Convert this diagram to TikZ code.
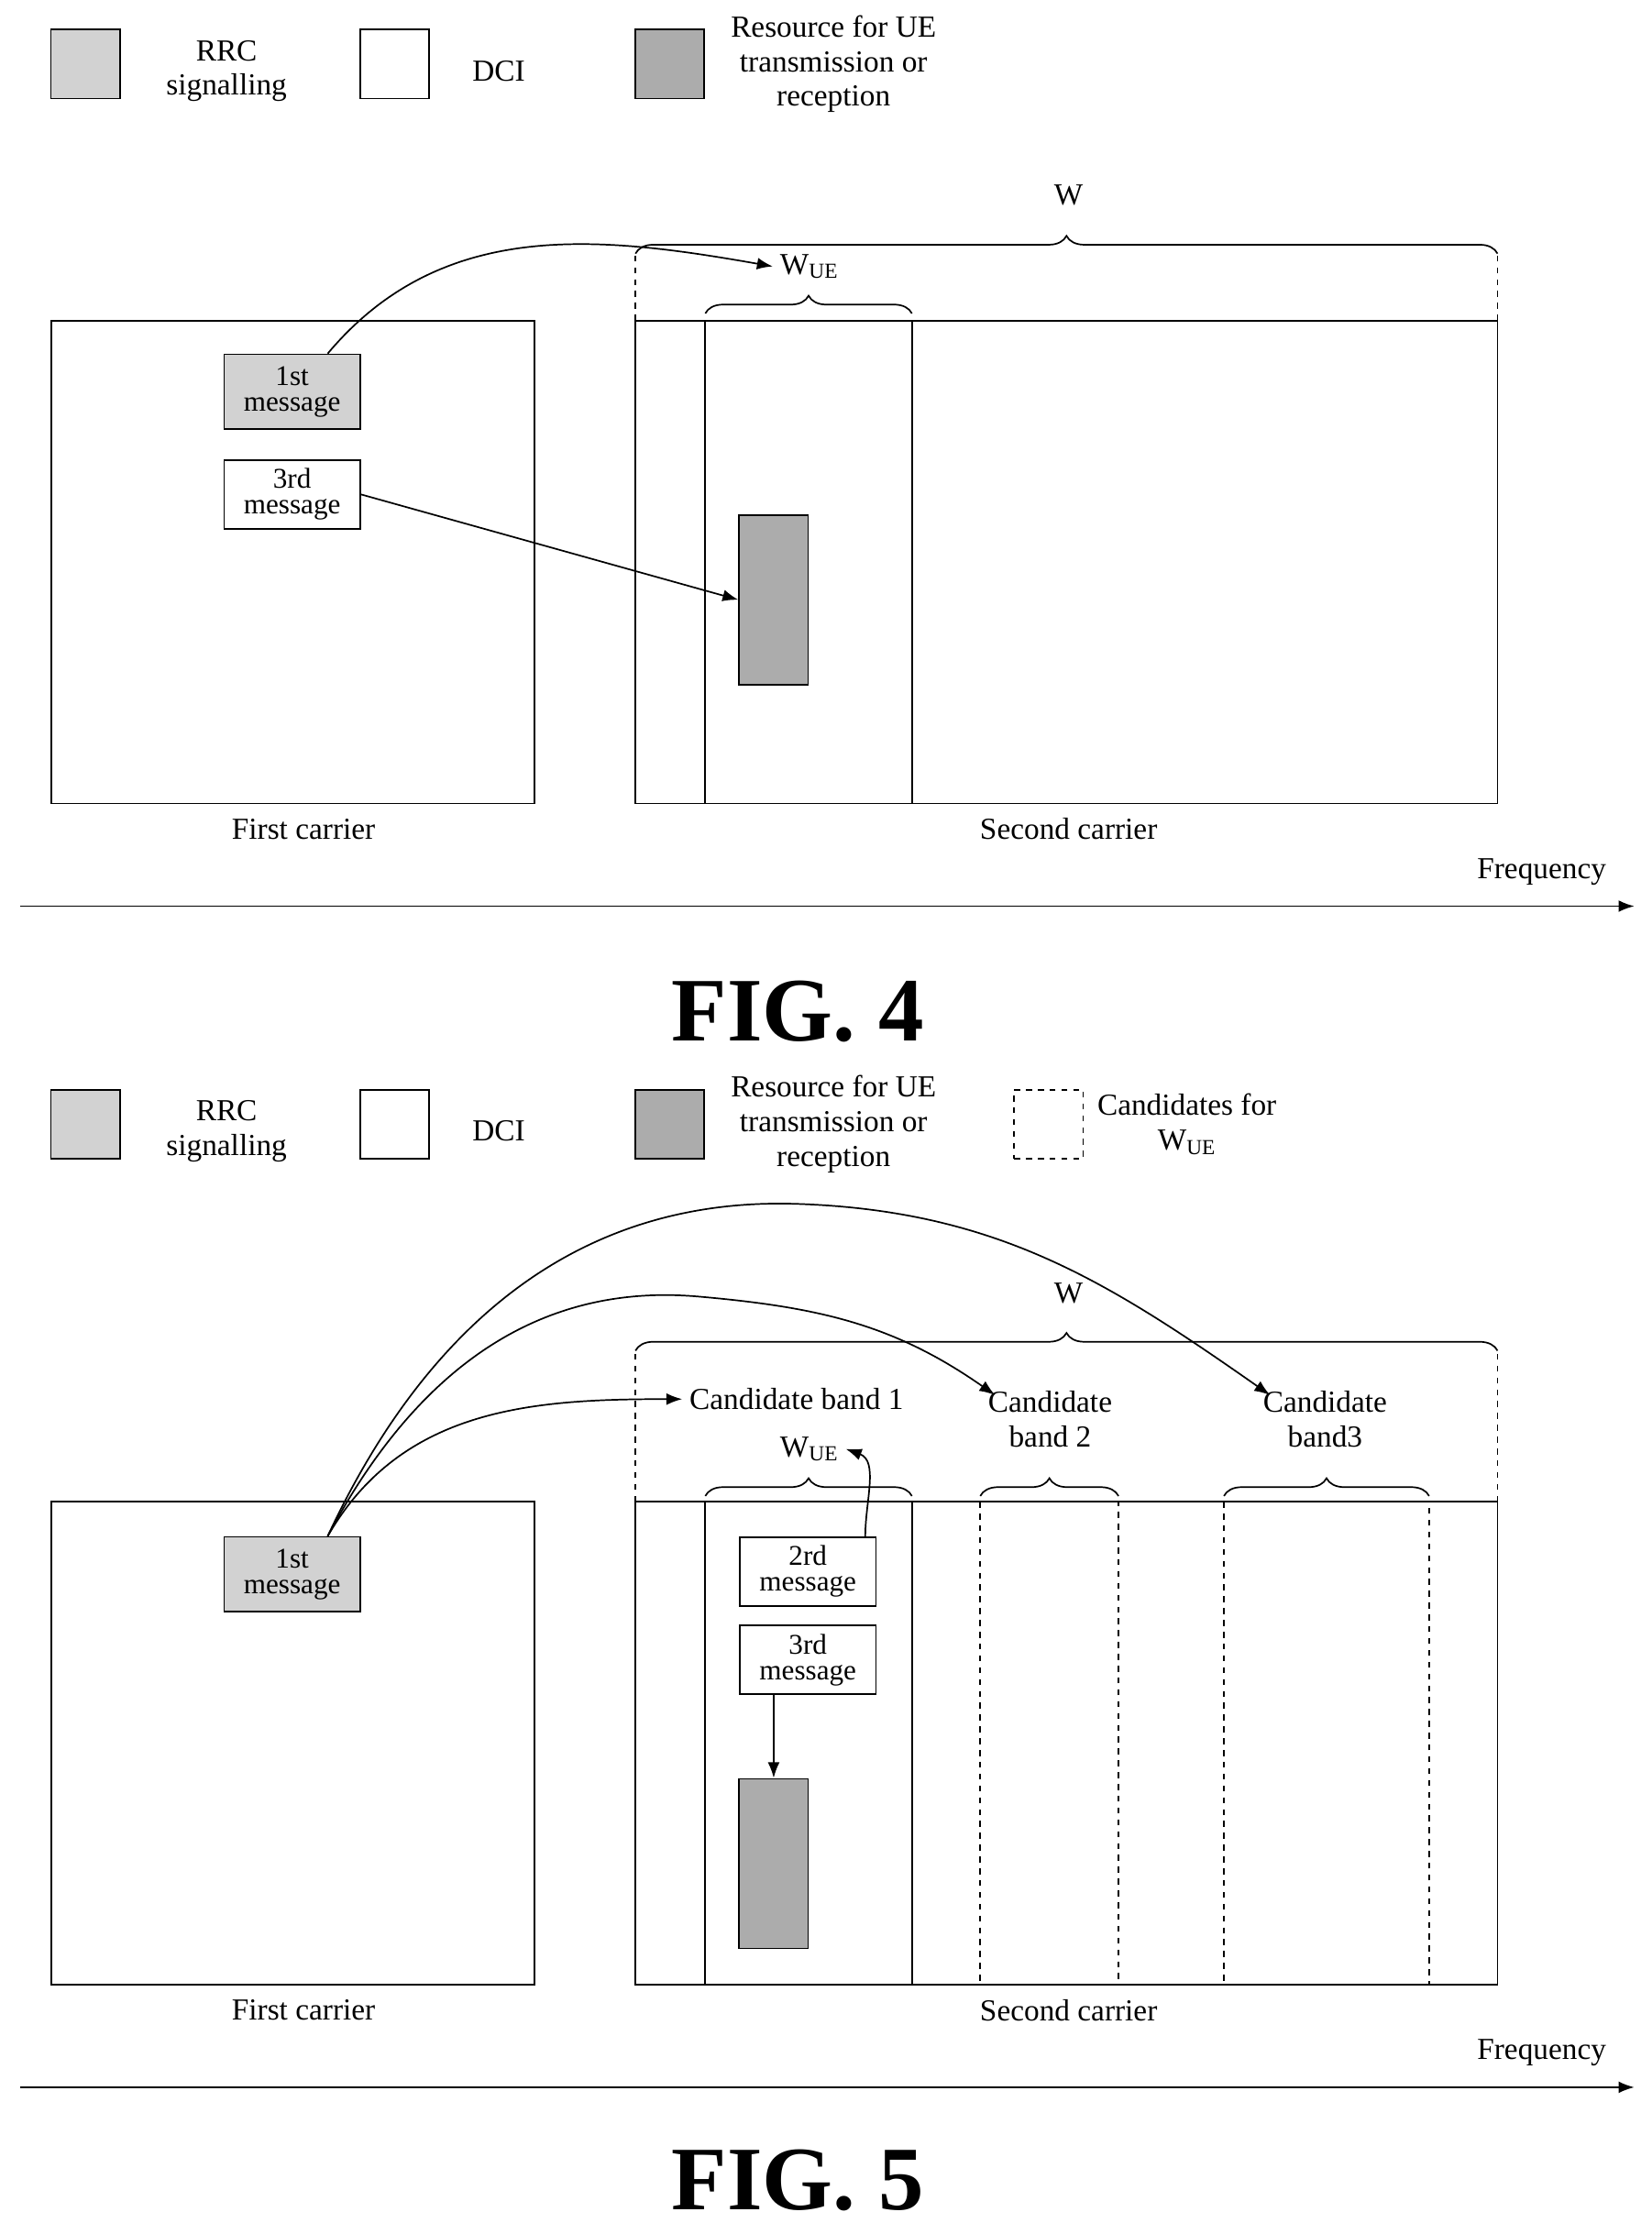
\documentclass[tikz,border=0pt]{standalone}
\usepackage{fontspec}
\setmainfont{Liberation Serif}
\usetikzlibrary{shapes, calc, arrows.meta, decorations.pathreplacing}

\begin{document}
\begin{tikzpicture}[x=0.0254cm, y=-0.0254cm, line width=0.8pt]
	\tikzstyle{every node}=[font=\fontsize{15.5}{17.5}\selectfont, align=center]
	\tikzstyle{box}=[draw, inner sep=0pt]
	\tikzstyle{rrc}=[box, fill=gray!35, minimum width=69pt, minimum height=38pt]
	\tikzstyle{dci}=[box, minimum width=69pt, minimum height=35pt]
	\tikzstyle{res}=[box, fill=gray!65, minimum width=35pt, minimum height=86pt]
	\tikzstyle{leg}=[box, minimum width=35pt, minimum height=35pt]
	\tikzstyle{msg}=[font=\fontsize{14.5}{13}\selectfont]
	\tikzstyle{brc}=[decorate, decoration={brace, amplitude=9}]
	\tikzstyle{fig}=[font=\fontsize{46}{50}\selectfont\bfseries]
	\tikzstyle{arr}=[-{Latex[length=8pt, width=6pt]}]
	\useasboundingbox (0,0) rectangle (1159,1568);

	% FIG. 4
	\node[leg, fill=gray!35] (lrrc) at (60,45) {};
	\node (lrrct) at (159,50) {RRC\\signalling};
	\node[leg] (ldci) at (277,45) {};
	\node (ldcit) at (350,50) {DCI};
	\node[leg, fill=gray!65] (lres) at (470,45) {};
	\node (lrest) at (585,45) {Resource for UE\\transmission or\\reception};

	\draw (36,225) rectangle (375,564);
	\draw (446,225) rectangle (1051,564);
	\draw (495,225) rectangle (640,564);
	\draw[dashed] (446,225) -- (446,178) (1051,225) -- (1051,178);
	\draw[brc] (446,178) -- (1051,178);
	\node (w) at (750,137) {W};
	\draw[brc] (495,220) -- (640,220);
	\node (wue) at (568,187) {W\textsubscript{UE}};

	\node[rrc, msg] (m1) at (205,275) {1st\\message};
	\node[dci, msg] (m3) at (205,347) {3rd\\message};
	\node[res] (r) at (543,421) {};
	\draw[arr] ($(m1.north)+(25,0)$) to[out=50, in=170] (wue.west);
	\draw[arr] (m3.east) -- (r.west);

	\node (fc) at (213,582) {First carrier};
	\node (sc) at (750,582) {Second carrier};
	\draw[arr] (14,636) -- (1147,636);
	\node (fq) at (1082,612) {Frequency};
	\node[fig] (f4) at (560,710) {FIG. 4};

	% FIG. 5
	\node[leg, fill=gray!35] (lrrc2) at (60,789) {};
	\node (lrrct2) at (159,794) {RRC\\signalling};
	\node[leg] (ldci2) at (277,789) {};
	\node (ldcit2) at (350,794) {DCI};
	\node[leg, fill=gray!65] (lres2) at (470,789) {};
	\node (lrest2) at (585,789) {Resource for UE\\transmission or\\reception};
	\node[leg, dashed] (lcand) at (736,789) {};
	\node (lcandt) at (833,789) {Candidates for\\W\textsubscript{UE}};

	\draw (36,1054) rectangle (375,1393);
	\draw (446,1054) rectangle (1051,1393);
	\draw (495,1054) rectangle (640,1393);
	\draw[dashed] (688,1054) rectangle (785,1393);
	\draw[dashed] (859,1054) rectangle (1003,1393);
	\draw[dashed] (446,1054) -- (446,948) (1051,1054) -- (1051,948);
	\draw[brc] (446,948) -- (1051,948);
	\node (w2) at (750,908) {W};
	\draw[brc] (495,1050) -- (640,1050);
	\draw[brc] (688,1050) -- (785,1050);
	\draw[brc] (859,1050) -- (1003,1050);
	\node (wue2) at (568,1017) {W\textsubscript{UE}};
	\node (cb1) at (559,982) {Candidate band 1};
	\node (cb2) at (737,996) {Candidate\\band 2};
	\node (cb3) at (930,996) {Candidate\\band3};

	\node[rrc, msg] (n1) at (205,1105) {1st\\message};
	\node[dci, msg] (n2) at (567,1103) {2rd\\message};
	\node[dci, msg] (n3) at (567,1165) {3rd\\message};
	\node[res] (r2) at (543,1308) {};
	\draw[arr] (n3.south -| r2.north) -- (r2.north);
	\draw[arr] ($(n2.north east)+(-8,0)$) to[out=90, in=-20] (wue2.east);
	\coordinate (src) at ($(n1.north)+(25,0)$);
	\draw[arr] (src) to[out=60, in=180] (cb1.west);
	\draw[arr] (src) to[out=62, in=175] (490,910) to[out=-5, in=145] ($(cb2.north west)+(10,8)$);
	\draw[arr] (src) to[out=65, in=178] (560,845) to[out=-2, in=145] ($(cb3.north west)+(10,8)$);

	\node (fc2) at (213,1411) {First carrier};
	\node (sc2) at (750,1411) {Second carrier};
	\draw[arr] (14,1465) -- (1147,1465);
	\node (fq2) at (1082,1441) {Frequency};
	\node[fig] (f5) at (560,1530) {FIG. 5};
\end{tikzpicture}
\end{document}
